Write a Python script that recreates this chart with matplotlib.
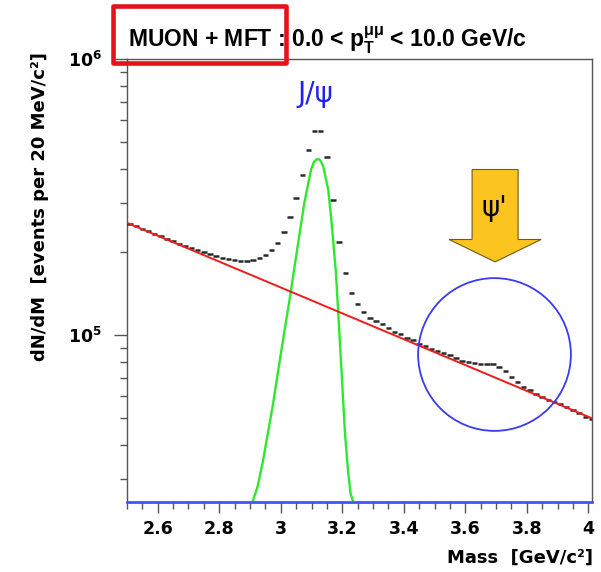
import matplotlib
matplotlib.use("Agg")
import matplotlib.pyplot as plt
import numpy as np
from matplotlib.patches import Polygon, Rectangle
from matplotlib.transforms import IdentityTransform
from matplotlib.ticker import MultipleLocator, LogLocator, FuncFormatter, NullFormatter

plt.rcParams['font.family'] = 'DejaVu Sans'
plt.rcParams['font.weight'] = 'bold'
plt.rcParams['mathtext.fontset'] = 'custom'
plt.rcParams['mathtext.rm'] = 'Liberation Sans:bold'
plt.rcParams['mathtext.it'] = 'Liberation Sans'
plt.rcParams['mathtext.bf'] = 'DejaVu Sans:bold'

# dimuon invariant mass, 20 MeV bins (centres)
mass = np.round(np.arange(2.51, 4.011, 0.02), 2)
counts = np.array([
    2.528e5, 2.476e5, 2.425e5, 2.375e5, 2.326e5, 2.278e5, 2.231e5, 2.188e5,
    2.145e5, 2.104e5, 2.069e5, 2.035e5, 2.001e5, 1.968e5, 1.928e5, 1.896e5,
    1.880e5, 1.865e5, 1.857e5, 1.860e5, 1.876e5, 1.904e5, 1.952e5, 2.035e5,
    2.163e5, 2.365e5, 2.673e5, 3.140e5, 3.814e5, 4.687e5, 5.504e5, 5.504e5,
    4.409e5, 3.088e5, 2.176e5, 1.684e5, 1.425e5, 1.297e5, 1.216e5, 1.157e5,
    1.128e5, 1.098e5, 1.059e5, 1.024e5, 1.008e5, 0.979e5, 0.961e5, 0.929e5,
    0.914e5, 0.894e5, 0.877e5, 0.860e5, 0.846e5, 0.825e5, 0.806e5, 0.796e5,
    0.790e5, 0.785e5, 0.785e5, 0.783e5, 0.765e5, 0.744e5, 0.707e5, 0.675e5,
    0.651e5, 0.633e5, 0.612e5, 0.599e5, 0.582e5, 0.573e5, 0.561e5, 0.548e5,
    0.536e5, 0.521e5, 0.507e5, 0.497e5,
])
half_bin = 0.0088

# background (exponential -> straight on log axis)
bkg_mass = [2.5, 4.013]
bkg_counts = [2.55e5, 4.99e4]

# J/psi signal shape
jpsi_mass = [2.9087, 2.9140, 2.9247, 2.9409, 2.9734, 3.0007, 3.0300, 3.0547,
             3.0765, 3.0984, 3.1083, 3.1171, 3.1217, 3.1260, 3.1317, 3.1382,
             3.1545, 3.1655, 3.1795, 3.1870, 3.1980, 3.2088, 3.2195, 3.2273,
             3.2358]
jpsi_counts = [2.49e4, 2.60e4, 2.83e4, 3.44e4, 5.50e4, 8.62e4, 1.375e5, 2.087e5,
               3.005e5, 3.966e5, 4.25e5, 4.33e5, 4.336e5, 4.32e5, 4.24e5, 4.076e5,
               3.357e5, 2.543e5, 1.676e5, 1.20e5, 7.28e4, 4.41e4, 3.16e4, 2.66e4,
               2.49e4]

x_range = (2.5, 4.013)
y_range = (2.486e4, 1.0e6)

psi2s_mass = 3.694
psi2s_level = 8.55e4

fig = plt.figure(figsize=(6.01, 5.72), dpi=100)
ax = fig.add_axes([0.2113, 0.1224, 0.7742, 0.7745])
ax.set_yscale('log')
ax.set_xlim(*x_range)
ax.set_ylim(*y_range)

ax.hlines(counts, mass - half_bin, mass + half_bin, color='#2a2a2a', lw=1.8, zorder=3)
ax.plot(jpsi_mass, jpsi_counts, color='#2ee82e', lw=1.7, zorder=4)
ax.plot(bkg_mass, bkg_counts, color='#f01c1c', lw=1.4, zorder=4)
ax.axhline(y_range[0], color='#4455ff', lw=2.0, clip_on=False, zorder=5)

# axes styling (ROOT-like)
for s in ax.spines.values():
    s.set_color('#555555')
    s.set_linewidth(1.0)
ax.xaxis.set_major_locator(MultipleLocator(0.2))
ax.xaxis.set_minor_locator(MultipleLocator(0.05))
ax.xaxis.set_major_formatter(FuncFormatter(lambda v, p: '%g' % round(v, 2)))
ax.yaxis.set_major_locator(LogLocator(base=10))
ax.yaxis.set_minor_locator(LogLocator(base=10, subs=range(2, 10)))
ax.yaxis.set_major_formatter(FuncFormatter(lambda v, p: r'$\mathbf{10^{%d}}$' % round(np.log10(v))))
ax.yaxis.set_minor_formatter(NullFormatter())
ax.tick_params(axis='x', which='major', direction='out', length=7.7, width=1,
               color='#555555', pad=5, labelsize=12.5)
ax.tick_params(axis='x', which='minor', direction='out', length=5.0, width=1, color='#555555')
ax.tick_params(axis='y', which='major', direction='out', length=9.4, width=1,
               color='#555555', pad=8.5, labelsize=12.5)
ax.tick_params(axis='y', which='minor', direction='out', length=4.9, width=1, color='#555555')

fig.text(40.5 / 601, 1 - 52 / 572, 'dN/dM  [events per 20 MeV/c²]', rotation=90,
         ha='center', va='top', fontsize=13, fontweight='bold')
fig.text(593 / 601, 1 - 558 / 572, 'Mass  [GeV/c²]', ha='right', va='center',
         fontsize=13, fontweight='bold')

fig.text(128 / 601, 1 - 48 / 572,
         r'MUON + MFT : 0.0 < $\mathrm{p}_{\mathrm{T}}^{\mu\mu}$ < 10.0 GeV/c',
         ha='left', va='baseline', fontsize=16.5, fontweight='bold', family='Liberation Sans')
fig.add_artist(Rectangle((113 / 601, 1 - 62.5 / 572), 172.5 / 601, 56.8 / 572,
                         transform=fig.transFigure, fill=False, edgecolor='#e8101a',
                         lw=3.3, joinstyle='round', zorder=10))

# annotations
ax.text(3.111, 7.45e5, 'J/ψ', color='#2222ee', fontsize=20, fontweight='normal',
        ha='center', va='center', zorder=6)
ax.plot([psi2s_mass], [psi2s_level], 'o', ms=110, mfc='none', mec='#3a3af0',
        mew=1.3, zorder=6, clip_on=False)

tip_x, tip_y = ax.transData.transform((3.697, 1.841e5))
arrow_shape = np.array([(0, 0), (-46, 22.4), (-23, 22.4), (-23, 92.4),
                        (23, 92.4), (23, 22.4), (46, 22.4)])
ax.add_patch(Polygon(arrow_shape + [tip_x, tip_y], closed=True,
                     transform=IdentityTransform(), facecolor='#fcc41e',
                     edgecolor='#6e5a1a', lw=0.8, zorder=7, clip_on=False))
ax.text(psi2s_mass, 2.888e5, "ψ'", color='black', fontsize=20, fontweight='normal',
        ha='center', va='center', zorder=8)

fig.savefig('out.png', dpi=100)
